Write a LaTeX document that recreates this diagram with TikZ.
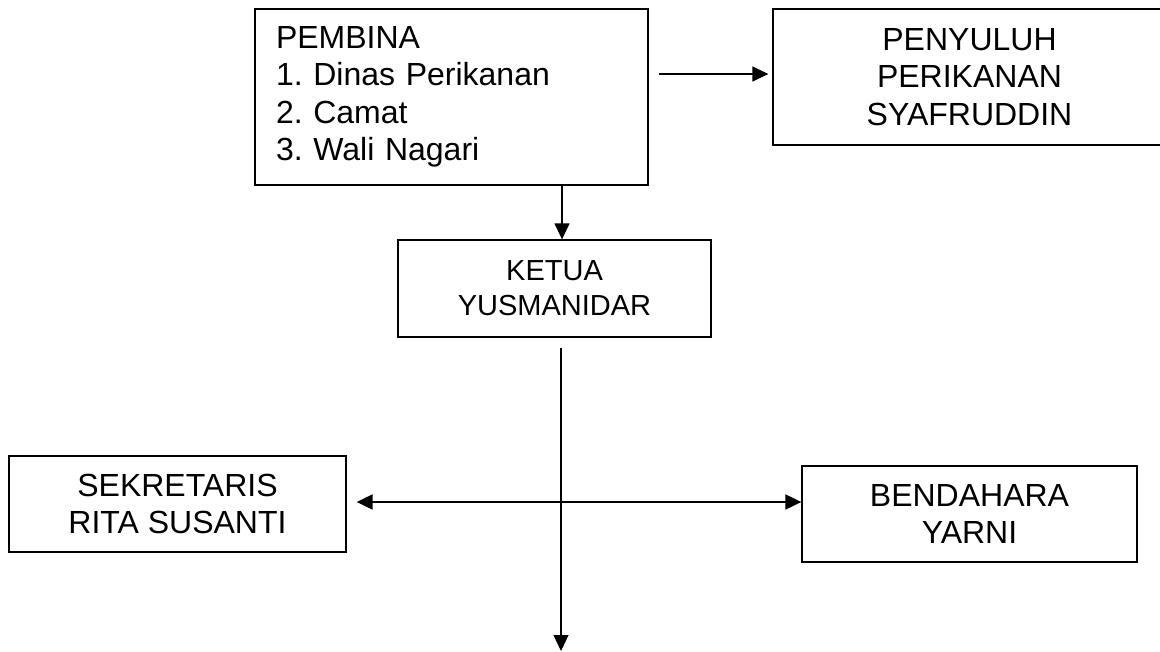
\documentclass[tikz,border=0pt]{standalone}
\usepackage{fontspec}
\setmainfont{Liberation Sans}
\usetikzlibrary{arrows.meta}
\frenchspacing
\tikzset{
  box/.style={draw, line width=1.3pt, rectangle, inner sep=0pt, align=center},
  bigtxt/.style={font=\fontsize{32}{37.5}\selectfont},
  midtxt/.style={font=\fontsize{29}{35}\selectfont},
  arr/.style={line width=1.4pt, -{Triangle[length=16pt,width=15pt]}},
  darr/.style={line width=2pt, {Triangle[length=16pt,width=15pt]}-{Triangle[length=16pt,width=15pt]}}
}
\begin{document}
\begin{tikzpicture}[x=1pt,y=-1pt]
\useasboundingbox (0,0) rectangle (1160,651);
\clip (0,0) rectangle (1160,651);
\node[box, bigtxt, align=left, minimum height=176pt, text width=351pt, inner xsep=21pt] (pem) at (451.5,97) {PEMBINA\\1. Dinas Perikanan\\2. Camat\\3. Wali Nagari};
\node[box, bigtxt, minimum width=393pt, minimum height=136pt] (pen) at (969.5,77) {PENYULUH\\PERIKANAN\\SYAFRUDDIN};
\node[box, midtxt, minimum width=313pt, minimum height=97pt] (ket) at (554.5,288.5) {KETUA\\YUSMANIDAR};
\node[box, bigtxt, minimum width=337pt, minimum height=96pt] (sek) at (177.5,504) {SEKRETARIS\\RITA SUSANTI};
\node[box, bigtxt, minimum width=335pt, minimum height=96pt] (ben) at (969.5,514) {BENDAHARA\\YARNI};
\coordinate (p1) at ([xshift=10pt,yshift=23pt]pem.east);
\coordinate (p2) at ([xshift=-4pt]pen.west);
\draw[arr] (p1) -- (p1 -| p2);
\coordinate (k1) at ([xshift=7.5pt]ket.north);
\draw[arr] (k1 |- pem.south) -- (k1);
\coordinate (bot) at (561,651);
\coordinate (k2) at ([yshift=-10.5pt]ket.south);
\draw[arr, line width=1.2pt] (k2 -| bot) -- (bot);
\coordinate (h1) at ([xshift=10pt,yshift=2pt]sek.east);
\draw[darr] (h1) -- (h1 -| ben.west);
\end{tikzpicture}
\end{document}
